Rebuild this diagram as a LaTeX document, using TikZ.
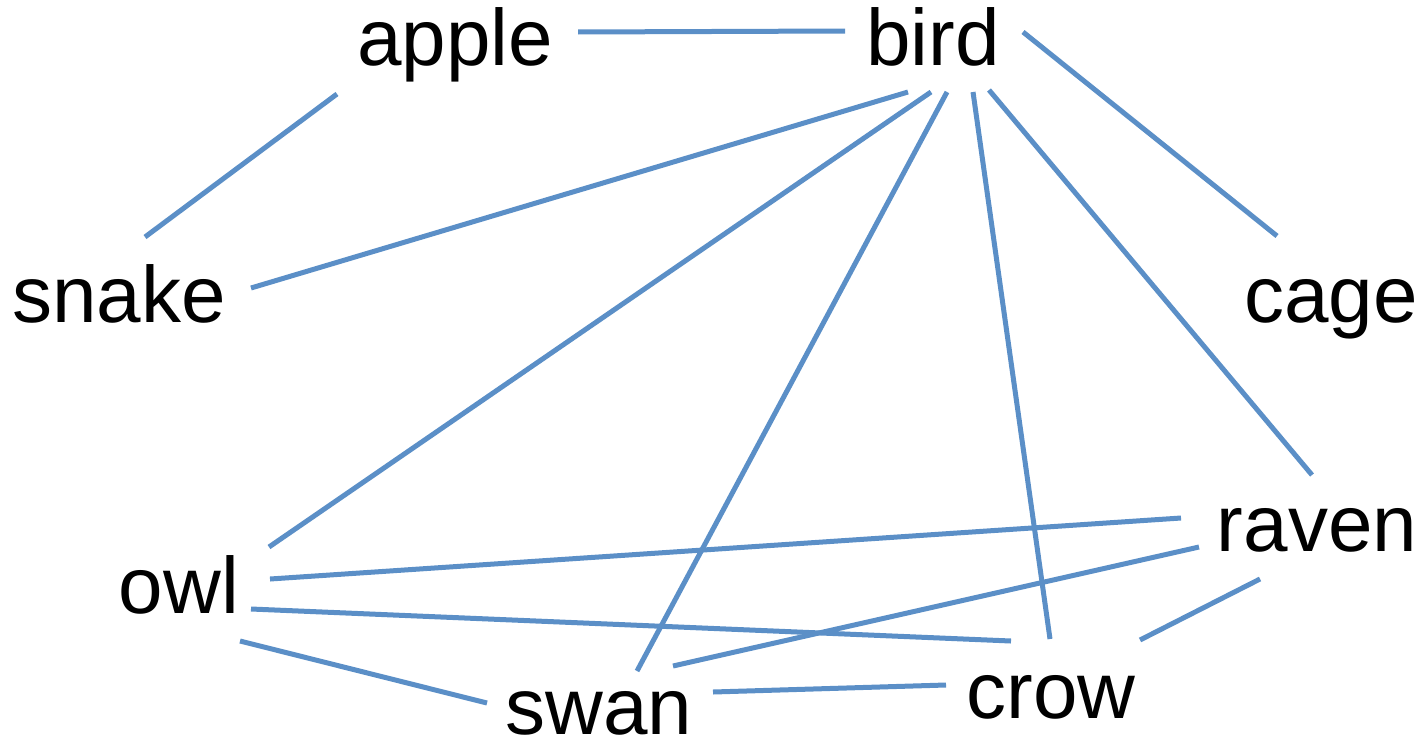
\documentclass[tikz,border=0pt]{standalone}
\usepackage{fontspec}
\setmainfont{Liberation Sans}
\definecolor{edgeblue}{RGB}{91,143,199}
\begin{document}
\begin{tikzpicture}[x=0.5pt,y=-0.5pt,
  word/.style={anchor=base,inner sep=0pt,font=\fontsize{40}{48}\selectfont},
  edge/.style={draw=edgeblue,line width=2.5pt}]
\useasboundingbox (0,0) rectangle (1427,744);

% words, placed by baseline
\node[word] (apple) at (455,65)  {apple};
\node[word] (bird)  at (933,65)  {bird};
\node[word] (snake) at (119,322) {snake};
\node[word] (cage)  at (1331,322){cage};
\node[word] (owl)   at (179,613) {owl};
\node[word] (raven) at (1317,551){raven};
\node[word,text depth=0pt] (swan) at (599,734) {swan};
\node[word] (crow)  at (1051,718){crow};

% links between words
\draw[edge] ([shift={(123,-33)}]apple.base) -- ([shift={(-88,-34)}]bird.base);
\draw[edge] ([shift={(-118,29)}]apple.base) -- ([shift={(26,-85)}]snake.base);
\draw[edge] ([shift={(-25,27)}]bird.base) -- ([shift={(132,-34)}]snake.base);
\draw[edge] ([shift={(-2,27)}]bird.base) -- ([shift={(90,-66)}]owl.base);
\draw[edge] ([shift={(14,27)}]bird.base) -- ([shift={(38,-63)}]swan.base);
\draw[edge] ([shift={(40,27)}]bird.base) -- ([shift={(-1,-79)}]crow.base);
\draw[edge] ([shift={(56,25)}]bird.base) -- ([shift={(-5,-76)}]raven.base);
\draw[edge] ([shift={(90,-33)}]bird.base) -- ([shift={(-54,-86)}]cage.base);
\draw[edge] ([shift={(91,-34)}]owl.base) -- ([shift={(-136,-33)}]raven.base);
\draw[edge] ([shift={(72,-4)}]owl.base) -- ([shift={(-40,-77)}]crow.base);
\draw[edge] ([shift={(61,28)}]owl.base) -- ([shift={(-112,-31)}]swan.base);
\draw[edge] ([shift={(74,-68)}]swan.base) -- ([shift={(-118,-4)}]raven.base);
\draw[edge] ([shift={(114,-42)}]swan.base) -- ([shift={(-105,-33)}]crow.base);
\draw[edge] ([shift={(89,-78)}]crow.base) -- ([shift={(-57,28)}]raven.base);
\end{tikzpicture}
\end{document}
